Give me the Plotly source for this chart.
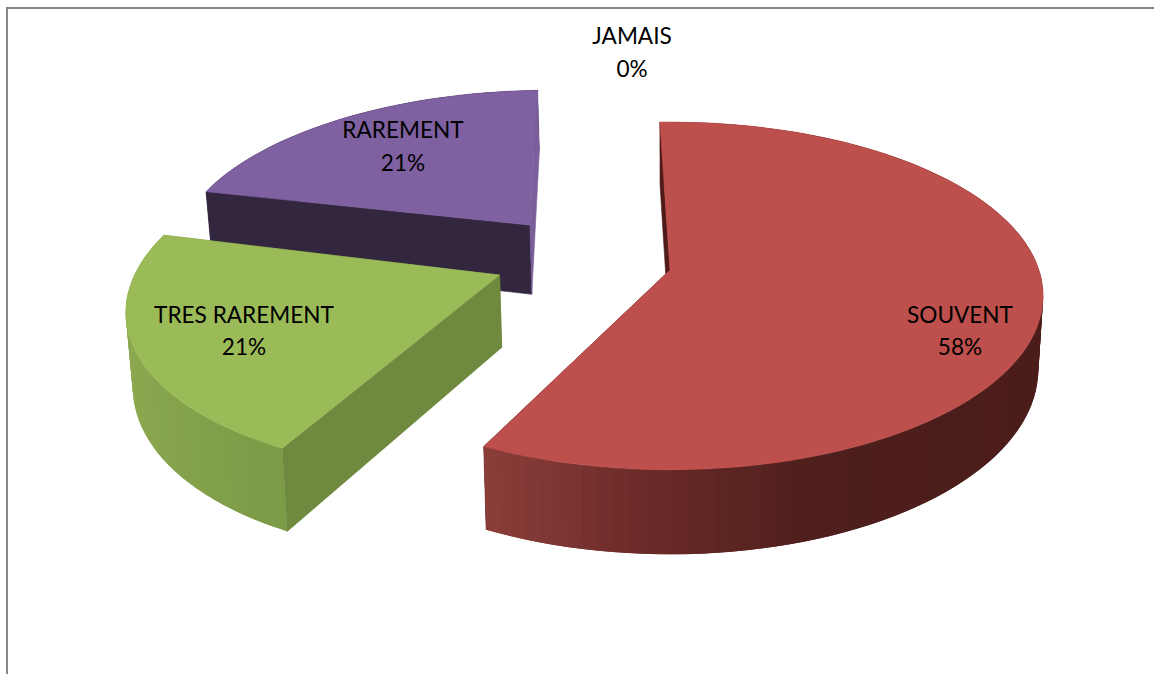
import math
import plotly.graph_objects as go

# ---------- data ----------
CATEGORIES = ["SOUVENT", "TRES RAREMENT", "RAREMENT", "JAMAIS"]
VALUES = [57.7, 21.4, 20.9, 0]

# ---------- styles ----------
TOP_COLORS = ["#BD4F4C", "#9BBB59", "#7F60A0", "#4BACC6"]
START_WALL = ["#4F1B19", "#6F893E", "#33263F", "#333333"]
END_WALL = ["#4F1B19", "#6F893E", "#7A5F9A", "#333333"]
END_WALL_VISIBLE = [False, False, True, False]
ARC_STOPS = [
    [(484, "#8C3E3A"), (640, "#6C2B29"), (810, "#4E1F1C"), (1045, "#4B1D1A")],
    [(127, "#8BA84F"), (200, "#82A04A"), (290, "#7B9A47")],
    [(100, "#33263F"), (600, "#33263F")],
    [(0, "#333333"), (1, "#333333")],
]
EXPLODE = [(0.0, 0.0), (-0.46, -0.03), (-0.395, 0.275), (0.0, 0.0)]
RADIUS = [1.0, 0.985, 0.98, 1.0]
ANGLE_SHIFT = [0.0, 1.2, 0.0, 0.0]
LABEL_X = [960, 244, 403, 632]
LABEL_Y = [317.5, 317.5, 132.5, 38.5]
PCT_Y = [349.5, 349.5, 165.5, 71.5]

# ---------- projection of the tilted disk ----------
CX, CY, RX, RY, PERSP, DEPTH, TILT = 670, 270, 369, 170, 0.149, 72, 0.013
ROTATION = -1.8


def project(u, v, low=False):
    s = 1 / (1 + PERSP * v)
    x = CX + RX * u * s
    y = CY - RY * v * s
    if low:
        x += TILT * (CX - x)
        y += DEPTH * s
    return x, y


def hexrgb(h):
    return tuple(int(h[i:i + 2], 16) for i in (1, 3, 5))


def ramp(stops, x):
    if x <= stops[0][0]:
        return stops[0][1]
    for (x0, c0), (x1, c1) in zip(stops, stops[1:]):
        if x <= x1:
            t = (x - x0) / (x1 - x0)
            a, b = hexrgb(c0), hexrgb(c1)
            return "#%02X%02X%02X" % tuple(round(p + (q - p) * t) for p, q in zip(a, b))
    return stops[-1][1]


fig = go.Figure()


def poly(pts, color, edge=0.6):
    fig.add_trace(go.Scatter(
        x=[p[0] for p in pts] + [pts[0][0]],
        y=[p[1] for p in pts] + [pts[0][1]],
        mode="lines", fill="toself", fillcolor=color,
        line=dict(color=color, width=edge),
        hoverinfo="skip", showlegend=False))


total = sum(VALUES)
spans = []
a = ROTATION
for val in VALUES:
    b = a + 360 * val / total
    spans.append((a, b))
    a = b

# back slices first, so that nearer ones cover them
for i in [2, 1, 0]:
    a0, a1 = spans[i][0] + ANGLE_SHIFT[i], spans[i][1] + ANGLE_SHIFT[i]
    u0, v0 = EXPLODE[i]
    r = RADIUS[i]
    n = max(2, int((a1 - a0) / 2))
    angs = [math.radians(a0 + (a1 - a0) * k / n) for k in range(n + 1)]
    rim = [(u0 + r * math.sin(t), v0 + r * math.cos(t)) for t in angs]
    end_wall = [project(u0, v0), project(*rim[-1]), project(*rim[-1], True), project(u0, v0, True)]

    if not END_WALL_VISIBLE[i]:
        poly(end_wall, END_WALL[i])
    # outer curved wall, shaded along x; each band overlaps the next one
    for k in range(n):
        band = rim[k:k + 3]
        mx = (project(*rim[k])[0] + project(*rim[k + 1])[0]) / 2
        poly([project(*p) for p in band] + [project(*p, True) for p in reversed(band)],
             ramp(ARC_STOPS[i], mx), edge=0)
    # radial walls
    poly([project(u0, v0), project(*rim[0]), project(*rim[0], True), project(u0, v0, True)], START_WALL[i])
    if END_WALL_VISIBLE[i]:
        poly(end_wall, END_WALL[i])
    # top face
    poly([project(u0, v0)] + [project(*p) for p in rim], TOP_COLORS[i])

# labels
FONT = dict(family="Lato, Carlito, Calibri, sans-serif", size=22.6, color="#000000")
fig.add_trace(go.Scatter(x=LABEL_X, y=LABEL_Y, text=CATEGORIES, mode="text",
                         textposition="middle center", textfont=FONT,
                         hoverinfo="skip", showlegend=False))
fig.add_trace(go.Scatter(x=LABEL_X, y=PCT_Y, text=[f"{round(v)}%" for v in VALUES], mode="text",
                         textposition="middle center", textfont=FONT,
                         hoverinfo="skip", showlegend=False))

# chart frame: only top and left edges are visible in the picture
FRAME = "#868686"
fig.add_shape(type="line", x0=6, x1=1154, y0=8, y1=8, line=dict(color=FRAME, width=2))
fig.add_shape(type="line", x0=7, x1=7, y0=7, y1=674, line=dict(color=FRAME, width=2))

fig.update_layout(
    width=1154, height=674, margin=dict(l=0, r=0, t=0, b=0),
    paper_bgcolor="#FFFFFF", plot_bgcolor="#FFFFFF", showlegend=False,
    xaxis=dict(range=[0, 1154], visible=False, fixedrange=True),
    yaxis=dict(range=[674, 0], visible=False, fixedrange=True),
)
fig.write_html("out.html", config=dict(displayModeBar=False),
               post_script="document.body.style.margin='0';document.body.style.overflow='hidden';")
